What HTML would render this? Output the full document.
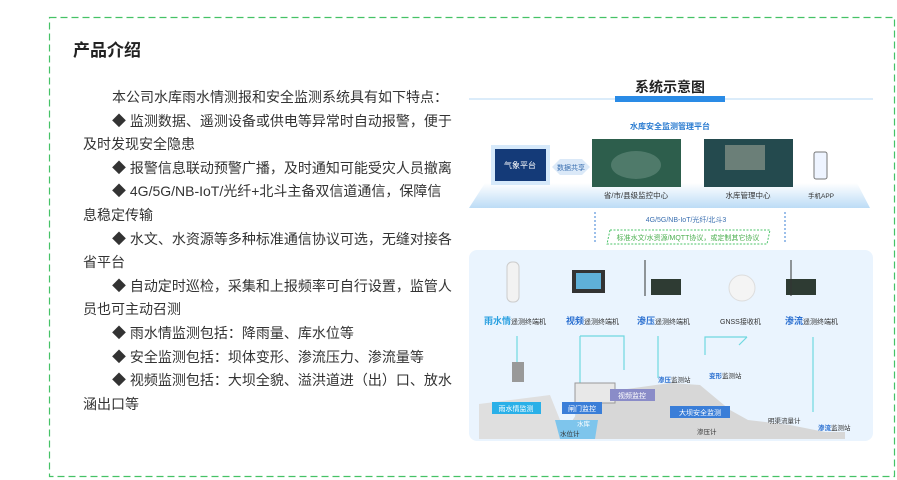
<!DOCTYPE html>
<html><head><meta charset="utf-8"><style>
body{margin:0;width:897px;height:480px;background:#fff;font-family:"Liberation Sans","Noto Sans CJK SC",sans-serif;position:relative;overflow:hidden}
h2{position:absolute;left:73px;top:36px;margin:0;font-size:17px;font-weight:bold;color:#222}
.t{position:absolute;left:83px;top:86px;width:372px;font-size:14px;line-height:23.6px;color:#333}
.t p{margin:0}
.i{padding-left:29px}
</style></head><body>
<h2>产品介绍</h2>
<div class="t">
<p class="i">本公司水库雨水情测报和安全监测系统具有如下特点：</p>
<p class="i">◆ 监测数据、遥测设备或供电等异常时自动报警，便于</p>
<p>及时发现安全隐患</p>
<p class="i">◆ 报警信息联动预警广播，及时通知可能受灾人员撤离</p>
<p class="i">◆ 4G/5G/NB-IoT/光纤+北斗主备双信道通信，保障信</p>
<p>息稳定传输</p>
<p class="i">◆ 水文、水资源等多种标准通信协议可选，无缝对接各</p>
<p>省平台</p>
<p class="i">◆ 自动定时巡检，采集和上报频率可自行设置，监管人</p>
<p>员也可主动召测</p>
<p class="i">◆ 雨水情监测包括：降雨量、库水位等</p>
<p class="i">◆ 安全监测包括：坝体变形、渗流压力、渗流量等</p>
<p class="i">◆ 视频监测包括：大坝全貌、溢洪道进（出）口、放水</p>
<p>涵出口等</p>
</div>
<svg width="897" height="480" style="position:absolute;left:0;top:0">
<defs><linearGradient id="pl" x1="0" y1="0" x2="0" y2="1"><stop offset="0" stop-color="#fff"/><stop offset="1" stop-color="#bcdcf6"/></linearGradient></defs>
<rect x="49.5" y="17.5" width="845" height="459" fill="none" stroke="#45c266" stroke-width="1.2" stroke-dasharray="7,4"/>
<line x1="469" y1="99" x2="873" y2="99" stroke="#cfe6f8" stroke-width="1.5"/>
<rect x="615" y="96" width="110" height="6" fill="#2a8be6"/>
<text x="670" y="92" text-anchor="middle" font-size="14" font-weight="bold" fill="#222">系统示意图</text>
<text x="670" y="129" text-anchor="middle" font-size="8" font-weight="bold" fill="#2a7bd0">水库安全监测管理平台</text>
<polygon points="485,183 857,183 870,208 469,208" fill="url(#pl)"/>
<rect x="491" y="145" width="59" height="40" fill="#d6e9fa"/>
<rect x="495" y="149" width="51" height="32" fill="#143a78"/>
<text x="520" y="168" text-anchor="middle" font-size="8" fill="#fff">气象平台</text>
<polygon points="552,167 560,159 582,159 590,167 582,175 560,175" fill="#dbe9f8"/>
<text x="571" y="170" text-anchor="middle" font-size="7" fill="#3a6fb0">数据共享</text>
<rect x="592" y="139" width="89" height="48" fill="#2d5e4c"/>
<ellipse cx="636" cy="165" rx="25" ry="14" fill="#4f7a6a"/>
<rect x="704" y="139" width="89" height="48" fill="#244a4e"/>
<rect x="725" y="145" width="40" height="25" fill="#6b7f78"/>
<text x="636" y="198" text-anchor="middle" font-size="7.5" fill="#333">省/市/县级监控中心</text>
<text x="748" y="198" text-anchor="middle" font-size="7.5" fill="#333">水库管理中心</text>
<rect x="814" y="152" width="13" height="27" rx="2" fill="#eef4ff" stroke="#777"/>
<text x="821" y="198" text-anchor="middle" font-size="6.5" fill="#333">手机APP</text>
<line x1="595" y1="212" x2="595" y2="244" stroke="#3a7fd5" stroke-dasharray="2,2"/>
<line x1="785" y1="212" x2="785" y2="244" stroke="#3a7fd5" stroke-dasharray="2,2"/>
<text x="686" y="222" text-anchor="middle" font-size="7" fill="#3a6fb0">4G/5G/NB-IoT/光纤/北斗3</text>
<polygon points="610,230 770,230 767,244 607,244" fill="none" stroke="#4cc46a" stroke-dasharray="2,1.5"/>
<text x="688" y="240" text-anchor="middle" font-size="7" fill="#4caf50">标准水文/水资源/MQTT协议，或定制其它协议</text>
<rect x="469" y="250" width="404" height="191" rx="8" fill="#eaf4fe"/>
<polygon points="479,404 550,395 560,420 575,439 479,439" fill="#dfdfdf"/>
<polygon points="575,400 600,400 605,415 560,439 575,439" fill="#c9dff0"/>
<polygon points="590,394 620,390 670,383 700,385 730,410 748,420 790,425 825,432 845,432 845,439 560,439" fill="#d7d7d7"/>
<polygon points="555,420 598,420 595,439 560,439" fill="#7ec5ec"/>
<rect x="507" y="262" width="12" height="40" rx="5" fill="#f2f2f2" stroke="#ccc"/>
<rect x="572" y="270" width="33" height="23" fill="#333"/><rect x="576" y="273" width="25" height="16" fill="#5fb0d8"/>
<rect x="651" y="279" width="30" height="16" fill="#2e3b33"/><rect x="786" y="279" width="30" height="16" fill="#2e3b33"/>
<line x1="645" y1="260" x2="645" y2="296" stroke="#333"/><line x1="791" y1="260" x2="791" y2="296" stroke="#333"/>
<circle cx="742" cy="288" r="13" fill="#f4f4f4" stroke="#ddd"/>
<g font-size="7" fill="#333">
<text x="484" y="324"><tspan font-size="9" font-weight="bold" fill="#2aa0e0">雨水情</tspan>遥测终端机</text>
<text x="566" y="324"><tspan font-size="9" font-weight="bold" fill="#2a6fd0">视频</tspan>遥测终端机</text>
<text x="637" y="324"><tspan font-size="9" font-weight="bold" fill="#2a6fd0">渗压</tspan>遥测终端机</text>
<text x="720" y="324">GNSS接收机</text>
<text x="785" y="324"><tspan font-size="9" font-weight="bold" fill="#2a6fd0">渗流</tspan>遥测终端机</text>
</g>
<g stroke="#6fd8e0" stroke-width="1.2" fill="none">
<line x1="517" y1="336" x2="517" y2="380"/>
<polyline points="580,336 580,390"/><polyline points="580,336 624,336 624,370"/>
<line x1="658" y1="336" x2="658" y2="378"/>
<polyline points="747,337 705,337 705,355"/><line x1="747" y1="337" x2="739" y2="345"/>
<line x1="813" y1="337" x2="813" y2="412"/>
</g>
<rect x="512" y="362" width="12" height="20" fill="#999"/><rect x="575" y="383" width="40" height="20" fill="#e8e8e8" stroke="#999"/>
<rect x="492" y="402" width="49" height="12" fill="#2ab0e8"/><text x="516" y="411" text-anchor="middle" font-size="7" fill="#fff">雨水情监测</text>
<rect x="562" y="402" width="40" height="12" fill="#3a7ed8"/><text x="582" y="411" text-anchor="middle" font-size="7" fill="#fff">闸门监控</text>
<rect x="610" y="389" width="45" height="12" fill="#8a8cc8"/><text x="632" y="398" text-anchor="middle" font-size="7" fill="#fff">视频监控</text>
<rect x="670" y="406" width="60" height="12" fill="#3a7ed8"/><text x="700" y="415" text-anchor="middle" font-size="7" fill="#fff">大坝安全监测</text>
<g font-size="6.5" fill="#333"><text x="560" y="436">水位计</text><text x="697" y="434">渗压计</text><text x="768" y="423">明渠流量计</text><text x="577" y="426" fill="#fff">水库</text>
<text x="658" y="382"><tspan fill="#2a6fd0" font-weight="bold">渗压</tspan>监测站</text>
<text x="709" y="378"><tspan fill="#2a6fd0" font-weight="bold">变形</tspan>监测站</text>
<text x="818" y="430"><tspan fill="#2a6fd0" font-weight="bold">渗流</tspan>监测站</text></g>
</svg>
</body></html>
